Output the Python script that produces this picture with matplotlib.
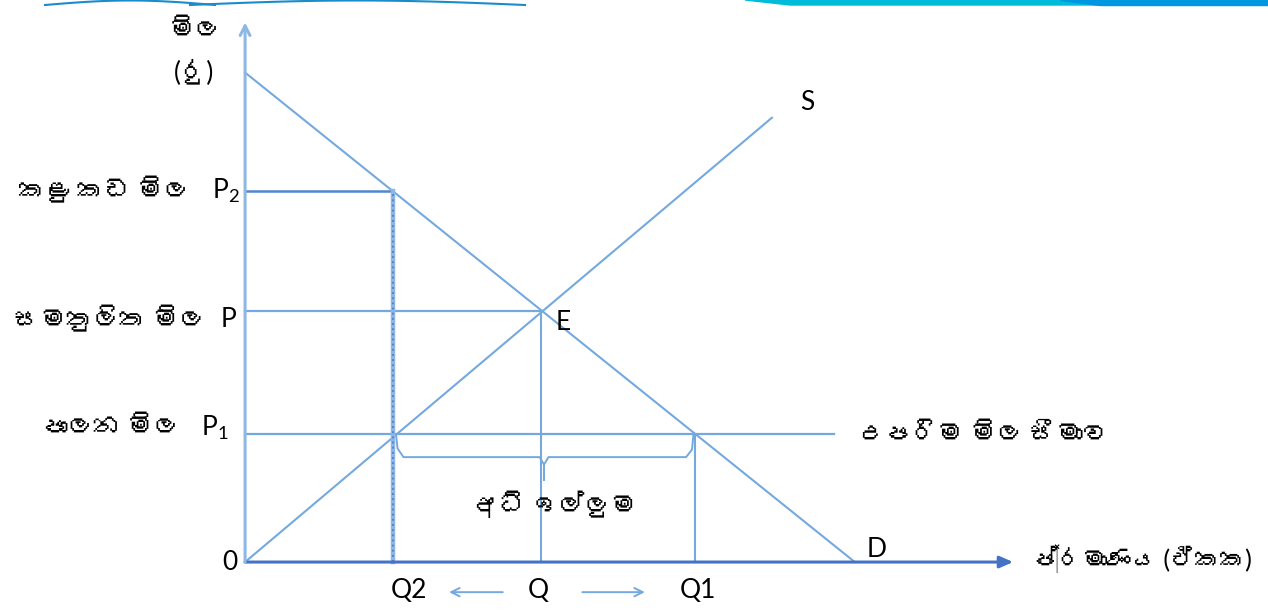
import matplotlib
matplotlib.use("Agg")
import matplotlib.pyplot as plt
import numpy as np
from matplotlib import font_manager
from matplotlib.ft2font import FT2Font
from matplotlib.patches import Polygon

# ---- values (quantity units / rupee units) ----
q_eq, q_low, q_high = 10, 5, 15.2         # Q, Q2, Q1
p_eq, p_ceiling, p_black = 10, 5.1, 14.8  # P, P1, P2
demand_q = [0, 20.6]
demand_p = [19.5, 0]
supply_q = [0, 17.8]
supply_p = [0, 17.7]
ceiling_end = 19.9
x_axis_end = 25.95
y_axis_end = 21.5

q_labels = ["Q2", "Q", "Q1"]
q_values = [q_low, q_eq, q_high]
p_labels = ["P$_2$", "P", "P$_1$"]
p_names = ["කළු කඩ මිල", "සමතුලිත මිල", "පාලන මිල"]
p_values = [p_black, p_eq, p_ceiling]

sinhala_texts = p_names + ["මිල", "(රු)", "උපරිම මිල සීමාව",
                           "ප්‍රමාණය (ඒකක)", "අධි ඉල්ලුම"]

# ---- fonts: pick the installed font that covers most of the Sinhala used ----
need = {ord(c) for s in sinhala_texts for c in s if ord(c) > 0x0D80}
best, best_n = None, 0
for f in font_manager.fontManager.ttflist:
    try:
        n = len(need & set(FT2Font(f.fname).get_charmap()))
    except Exception:
        continue
    if n > best_n:
        best, best_n = f.name, n
fams = ["Lato", "DejaVu Sans"]
if best:
    fams = ["Lato", best, "DejaVu Sans"]
plt.rcParams["font.family"] = fams
plt.rcParams["mathtext.default"] = "regular"

line_c = "#74a9e0"
dark_c = "#4f86d0"
axis_c = "#4472c4"
fs = 19      # latin letters
fs_si = 19   # sinhala words

fig = plt.figure(figsize=(12.68, 6.13), dpi=100)
ax = fig.add_axes([0, 0, 1, 1])
ax.set_xlim(-8.28, 34.56)
ax.set_ylim(-2.03, 22.39)
ax.axis("off")

# axes arrows
ax.annotate("", xy=(x_axis_end, 0), xytext=(0, 0),
            arrowprops=dict(arrowstyle="-|>,head_length=0.8,head_width=0.35",
                            color=axis_c, lw=2.2, shrinkA=0, shrinkB=0))
ax.annotate("", xy=(0, y_axis_end), xytext=(0, 0),
            arrowprops=dict(arrowstyle="->,head_length=0.7,head_width=0.35",
                            color="#8db8e6", lw=2.2, shrinkA=0, shrinkB=0))

# demand & supply
ax.plot(demand_q, demand_p, color=line_c, lw=1.5)
ax.plot(supply_q, supply_p, color=line_c, lw=1.5)

# price lines
ax.plot([0, q_low], [p_black, p_black], color=dark_c, lw=1.8)
ax.plot([0, q_eq], [p_eq, p_eq], color=line_c, lw=1.6)
ax.plot([0, ceiling_end], [p_ceiling, p_ceiling], color=line_c, lw=1.6)

# quantity verticals
ax.plot([q_low, q_low], [0, p_black], color="#8fb6e6", lw=3.2)
ax.plot([q_low, q_low], [0, p_black], color=dark_c, lw=1.4, ls=":")
ax.plot([q_eq, q_eq], [0, p_eq], color=line_c, lw=1.5)
ax.plot([q_high, q_high], [0, p_ceiling], color=line_c, lw=1.5)

# brace under the ceiling line (excess demand)
yb, ytip = 4.18, 3.27
mid = 10.1
bx = [q_low + 0.1, q_low + 0.15, q_low + 0.35, mid - 0.15, mid, mid,
      mid, mid + 0.15, q_high - 0.3, q_high - 0.1, q_high - 0.05]
by = [p_ceiling, yb + 0.35, yb, yb, yb - 0.3, ytip,
      yb - 0.3, yb, yb, yb + 0.3, p_ceiling]
ax.plot(bx, by, color=line_c, lw=1.4)

# small arrows around Q
ax.annotate("", xy=(q_eq - 3.2, -1.2), xytext=(q_eq - 1.2, -1.2),
            arrowprops=dict(arrowstyle="->,head_length=0.6,head_width=0.3",
                            color=line_c, lw=1.4))
ax.annotate("", xy=(q_eq + 3.6, -1.2), xytext=(q_eq + 1.3, -1.2),
            arrowprops=dict(arrowstyle="->,head_length=0.6,head_width=0.3",
                            color=line_c, lw=1.4))

# price labels on the left
for name, lab, pv, xr, xs, dy in zip(p_names, p_labels, p_values,
                                     [-0.17, -0.3, -0.57], [-1.86, -1.35, -2.2],
                                     [0, -0.35, 0.25]):
    ax.text(xr, pv + dy, lab, fontsize=fs, ha="right", va="center")
    ax.text(xs, pv + dy, name, fontsize=fs_si, ha="right", va="center")

ax.text(-1.69, 21.2, "මිල", fontsize=fs_si, ha="center", va="center")
ax.text(-1.72, 19.5, "(රු)", fontsize=fs_si, ha="center", va="center")
ax.text(-0.5, 0, "0", fontsize=fs, ha="center", va="center")
for lab, qv, dx in zip(q_labels, q_values, [0.55, -0.1, 0.1]):
    ax.text(qv + dx, -1.15, lab, fontsize=fs, ha="center", va="center")
ax.text(q_eq + 0.74, p_eq - 0.45, "E", fontsize=fs, ha="center", va="center")
ax.text(supply_q[1] + 1.2, supply_p[1] + 0.6, "S", fontsize=fs, ha="center", va="center")
ax.text(demand_q[1] + 0.75, 0.48, "D", fontsize=fs, ha="center", va="center")
ax.text(ceiling_end + 0.8, p_ceiling, "උපරිම මිල සීමාව", fontsize=fs_si,
        ha="left", va="center")
ax.text(x_axis_end + 0.65, 0.15, "ප්‍රමාණය (ඒකක)", fontsize=fs_si - 1,
        ha="left", va="center")
ax.text(mid + 0.35, 2.27, "අධි ඉල්ලුම", fontsize=fs_si, ha="center", va="center")

# slide header decoration along the top edge
W, H = 1268, 613
def fp(pts):
    return [(x / W, 1 - y / H) for x, y in pts]
fig.patches.append(Polygon(fp([(745, 0), (1060, 0), (1100, 5), (790, 5)]),
                           closed=True, color="#00bcd8", transform=fig.transFigure))
fig.patches.append(Polygon(fp([(1060, 0), (1268, 0), (1268, 5), (1100, 5)]),
                           closed=True, color="#0096e0", transform=fig.transFigure))
t = np.linspace(0, 1, 50)
for x0, x1 in [(45, 215), (190, 525)]:
    xs = x0 + (x1 - x0) * t
    ys = 5 - 4.5 * np.sin(np.pi * t)
    fig.lines.append(plt.Line2D(xs / W, 1 - ys / H, color="#1a8ccc", lw=1.5,
                                transform=fig.transFigure))

fig.savefig("out.png", dpi=100)
